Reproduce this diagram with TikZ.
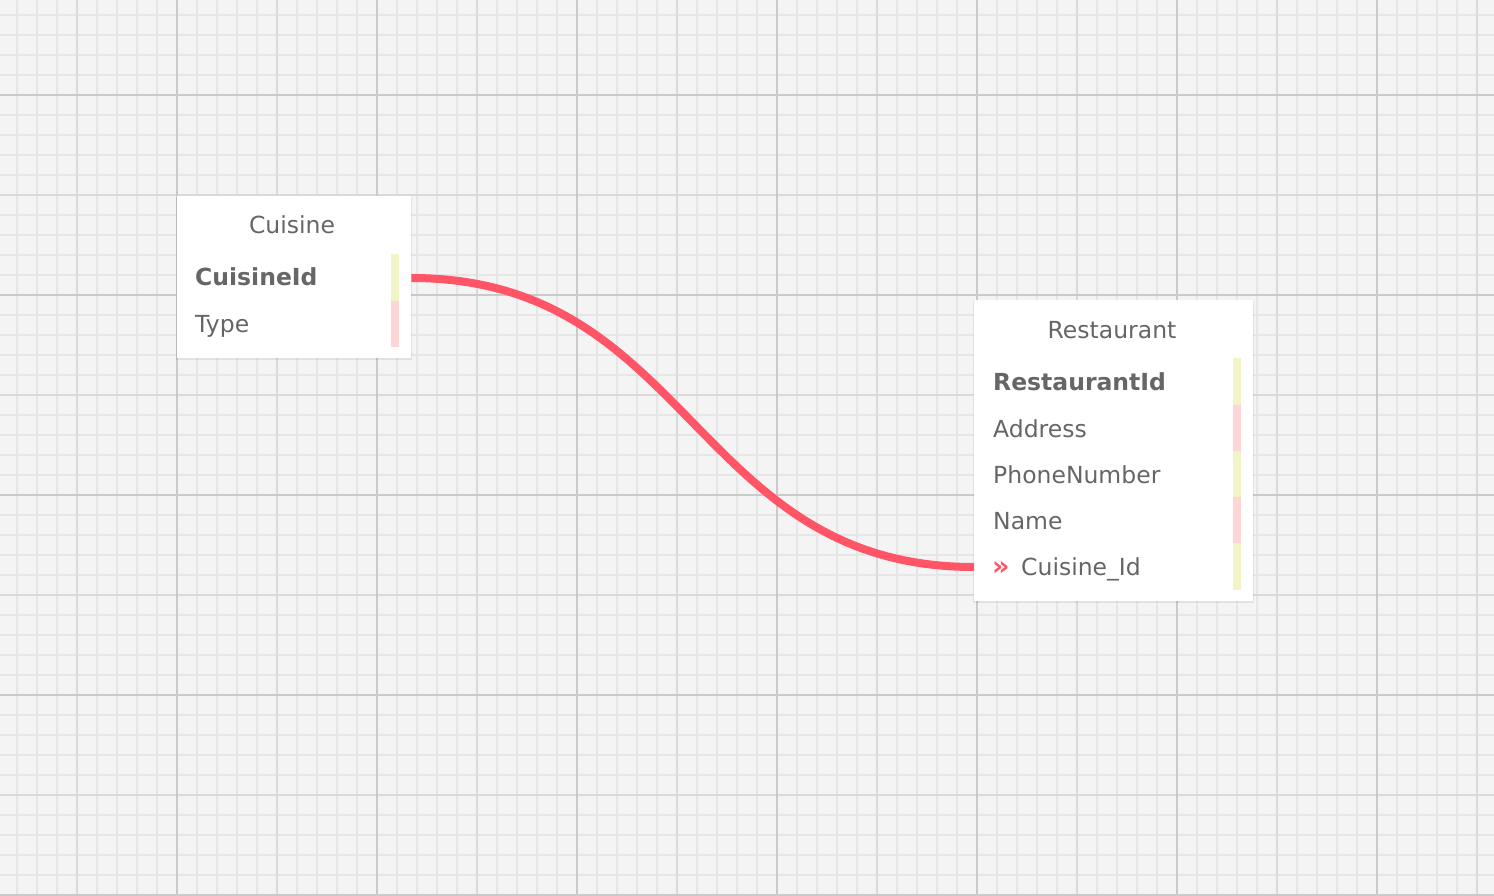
\documentclass[tikz,border=0pt]{standalone}
\usepackage{fontspec}
\setmainfont{DejaVu Sans}
\definecolor{canvasbg}{HTML}{F4F4F4}
\definecolor{gridfine}{HTML}{E6E6E6}
\definecolor{gridmid}{HTML}{DADADA}
\definecolor{griddark}{HTML}{CACACA}
\definecolor{txtgray}{HTML}{666666}
\definecolor{linkred}{HTML}{FF5566}
\definecolor{baryellow}{HTML}{F3F3C8}
\definecolor{barpink}{HTML}{FFD6D8}
\tikzset{
  tablebox/.style={rectangle,fill=white,inner sep=0pt,anchor=north west},
  tabletitle/.style={inner sep=0pt,anchor=base,text=txtgray,font=\fontsize{23.5}{28}\selectfont},
  field/.style={inner sep=0pt,anchor=base west,text=txtgray,font=\fontsize{23.5}{28}\selectfont},
  keyfield/.style={field,font=\fontsize{23.5}{28}\selectfont\bfseries},
  fkmark/.style={inner sep=0pt,anchor=base west,text=linkred,font=\fontsize{27}{30}\selectfont\bfseries},
  link/.style={draw=linkred,line width=8pt}
}
\begin{document}
\begin{tikzpicture}[x=1pt,y=-1pt]
			\useasboundingbox (0,0) rectangle (1494,896);
			\fill[canvasbg] (0,0) rectangle (1494,896);

			% grid
			\foreach \x in {17,37,...,1477} \draw[gridfine,line width=1.5pt] (\x,0) -- (\x,896);
			\foreach \y in {15,35,...,895} \draw[gridfine,line width=1.5pt] (0,\y) -- (1494,\y);
			\foreach \x in {77,277,...,1477} \draw[gridmid,line width=2pt] (\x,0) -- (\x,896);
			\foreach \y in {195,395,...,795} \draw[gridmid,line width=2pt] (0,\y) -- (1494,\y);
			\foreach \x in {177,377,...,1377} \draw[griddark,line width=2pt] (\x,0) -- (\x,896);
			\foreach \y in {95,295,...,895} \draw[griddark,line width=2pt] (0,\y) -- (1494,\y);

			% Cuisine
			\fill[black,opacity=0.07] (176,197) rectangle (412,360);
			\node[tablebox,minimum width=234,minimum height=162] (cuisine) at (177,196) {};
			\node[tabletitle] (cuisinetitle) at (292,234) {Cuisine};
			\node[keyfield] (cuisineid) at (195,285) {CuisineId};
			\node[field] (cuisinetype) at (195,332) {Type};
			\fill[baryellow] (391,254) rectangle (399,301);
			\fill[barpink] (391,301) rectangle (399,347);

			% Restaurant
			\fill[black,opacity=0.07] (973,301) rectangle (1254,603);
			\node[tablebox,minimum width=279,minimum height=301] (restaurant) at (974,300) {};
			\node[tabletitle] (restauranttitle) at (1112,338) {Restaurant};
			\node[keyfield] (restaurantid) at (993,390) {RestaurantId};
			\node[field] (address) at (993,437) {Address};
			\node[field] (phonenumber) at (993,483) {PhoneNumber};
			\node[field] (name) at (993,529) {Name};
			\node[fkmark] (fkmark) at (992,575) {»};
			\node[field] (cuisinefk) at (1021,575) {Cuisine\_Id};
			\fill[baryellow] (1233,358) rectangle (1241,405);
			\fill[barpink] (1233,405) rectangle (1241,451);
			\fill[baryellow] (1233,451) rectangle (1241,497);
			\fill[barpink] (1233,497) rectangle (1241,543);
			\fill[baryellow] (1233,543) rectangle (1241,590);

			% relation
			\coordinate (cuisineout) at (cuisine.east |- 0,278);
			\coordinate (restaurantin) at (restaurant.west |- 0,567);
			\path[link] (cuisineout) .. controls +(280,0) and +(-280,0) .. (restaurantin);
		\end{tikzpicture}
\end{document}
